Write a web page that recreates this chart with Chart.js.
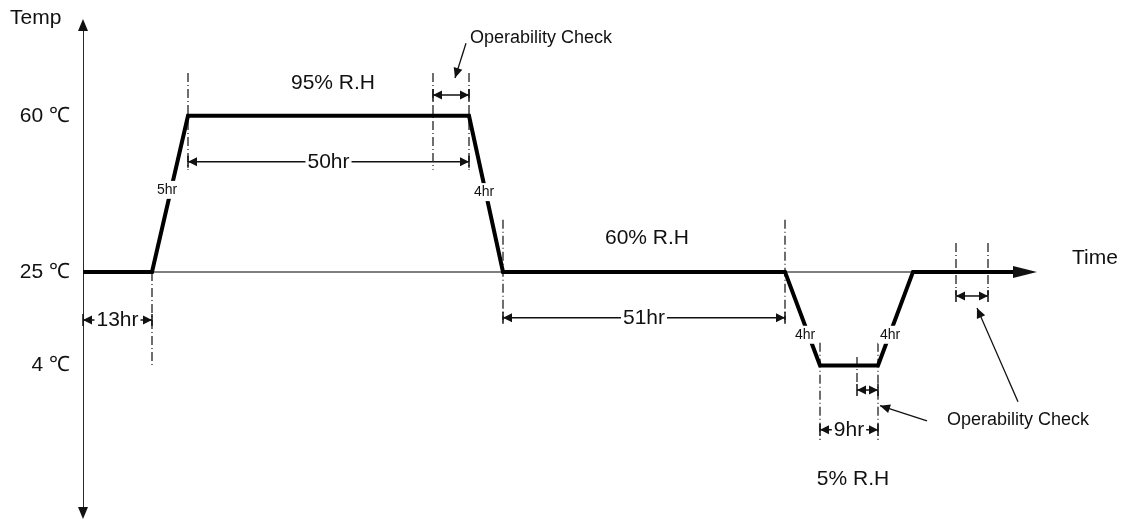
<!DOCTYPE html>
<html>
<head>
<meta charset="utf-8">
<script src="https://cdn.jsdelivr.net/npm/chart.js@4/dist/chart.umd.min.js"></script>
<style>
  html, body { margin: 0; padding: 0; background: #fff; }
  #wrap { width: 1128px; height: 520px; position: relative; }
</style>
</head>
<body>
<div id="wrap"><canvas id="chart"></canvas></div>
<script>
// temperature profile, schematic time units (not to scale)
const profileTime = [0, 69, 105, 386, 420, 702, 737, 795, 830, 930];
const profileTemp = [25, 25, 60, 60, 25, 25, 4, 4, 25, 25];

const tempTicks = [60, 25, 4];
const tempTickLabels = ["60 ℃", "25 ℃", "4 ℃"];

// dash-dot guide lines: x, from temp, to temp
const guideX = [69, 105, 350, 386, 420, 702, 737, 774, 795, 873, 905];
const guideFrom = [25, 69.6, 69.6, 69.6, 36.7, 36.7, 9.1, 5.9, 9.1, 31.5, 31.5];
const guideTo = [4, 47.9, 47.9, 47.9, 14.2, 14.2, -12.7, 0.3, -12.7, 19.8, 19.8];

// dimension arrows
const dimStart = [0, 105, 420, 737, 350, 774, 873];
const dimEnd = [69, 386, 702, 795, 386, 795, 905];
const dimLevel = [14.2, 49.7, 14.7, -10.4, 64.7, -1.5, 19.6];
const dimLabels = ["13hr", "50hr", "51hr", "9hr", "", "", ""];

// ramp durations
const rampLabels = ["5hr", "4hr", "4hr", "4hr"];
const rampAt = [[84, 43.4], [401, 42.9], [722, 10.9], [807, 10.9]];

const humidityLabels = ["95% R.H", "60% R.H", "5% R.H"];
const humidityAt = [[250, 67.4], [564, 32.6], [770, -21.6]];

const X_MAX = 954;
const Y_MIN = -30.2, Y_MAX = 81.5;

const FONT = '"Liberation Sans", Arial, sans-serif';

const datasets = [];
datasets.push({
  data: profileTime.map((t, i) => ({ x: t, y: profileTemp[i] })),
  borderColor: "#000", borderWidth: 4, borderJoinStyle: "miter", borderCapStyle: "butt"
});
guideX.forEach((gx, i) => {
  datasets.push({
    data: [{ x: gx, y: guideFrom[i] }, { x: gx, y: guideTo[i] }],
    borderColor: "#222", borderWidth: 1.3, borderDash: [9, 3, 1, 3]
  });
});
dimStart.forEach((s, i) => {
  datasets.push({
    data: [{ x: s, y: dimLevel[i] }, { x: dimEnd[i], y: dimLevel[i] }],
    borderColor: "#111", borderWidth: 1.5
  });
});
// axes
datasets.push({
  data: [{ x: 0, y: 25 }, { x: X_MAX - 10, y: 25 }],
  borderColor: "#555", borderWidth: 1.5
});
datasets.push({
  data: [{ x: 0, y: Y_MIN + 2 }, { x: 0, y: Y_MAX - 2 }],
  borderColor: "#111", borderWidth: 1.8
});

function head(ctx, x1, y1, x2, y2, len, half) {
  const a = Math.atan2(y2 - y1, x2 - x1);
  ctx.beginPath();
  ctx.moveTo(x2, y2);
  ctx.lineTo(x2 - len * Math.cos(a) + half * Math.sin(a), y2 - len * Math.sin(a) - half * Math.cos(a));
  ctx.lineTo(x2 - len * Math.cos(a) - half * Math.sin(a), y2 - len * Math.sin(a) + half * Math.cos(a));
  ctx.closePath();
  ctx.fill();
}

function boxedText(ctx, txt, x, y, font) {
  ctx.font = font;
  const w = ctx.measureText(txt).width;
  ctx.fillStyle = "#fff";
  ctx.fillRect(x - w / 2 - 2, y - 9, w + 4, 18);
  ctx.fillStyle = "#111";
  ctx.fillText(txt, x, y);
}

const decor = {
  id: "decor",
  afterDatasetsDraw(chart) {
    const ctx = chart.ctx;
    const xs = chart.scales.x, ys = chart.scales.y;
    const px = v => xs.getPixelForValue(v);
    const py = v => ys.getPixelForValue(v);
    ctx.save();
    ctx.fillStyle = "#111";
    ctx.strokeStyle = "#111";

    // axis arrowheads
    head(ctx, px(0), py(0), px(0), py(Y_MAX) - 1, 12, 5);
    head(ctx, px(0), py(0), px(0), py(Y_MIN) + 1, 12, 5);
    head(ctx, px(0), py(25), px(X_MAX), py(25), 24, 6);

    // dimension arrowheads and end ticks
    dimStart.forEach((s, i) => {
      const y = py(dimLevel[i]), a = px(s), b = px(dimEnd[i]);
      const mid = (a + b) / 2;
      ctx.fillStyle = "#111";
      head(ctx, mid, y, a, y, 9, 4.5);
      head(ctx, mid, y, b, y, 9, 4.5);
      ctx.lineWidth = 1.5;
      ctx.beginPath();
      ctx.moveTo(a, y - 6); ctx.lineTo(a, y + 6);
      ctx.moveTo(b, y - 6); ctx.lineTo(b, y + 6);
      ctx.stroke();
      if (dimLabels[i]) {
        ctx.textAlign = "center";
        ctx.textBaseline = "middle";
        boxedText(ctx, dimLabels[i], mid, y, "21px " + FONT);
      }
    });

    ctx.textAlign = "center";
    ctx.textBaseline = "middle";
    rampLabels.forEach((t, i) => {
      boxedText(ctx, t, px(rampAt[i][0]), py(rampAt[i][1]), "14px " + FONT);
    });

    ctx.fillStyle = "#111";
    ctx.font = "21px " + FONT;
    humidityLabels.forEach((t, i) => {
      ctx.fillText(t, px(humidityAt[i][0]), py(humidityAt[i][1]));
    });

    // operability check notes
    ctx.font = "18px " + FONT;
    ctx.fillText("Operability Check", px(458), py(77.5));
    ctx.fillText("Operability Check", px(935), py(-8.2));
    ctx.lineWidth = 1.3;
    [[383, 76.3, 372, 68.5], [844, -8.4, 797, -5.0], [935, -4.1, 894, 16.9]].forEach(a => {
      const x1 = px(a[0]), y1 = py(a[1]), x2 = px(a[2]), y2 = py(a[3]);
      ctx.beginPath();
      ctx.moveTo(x1, y1); ctx.lineTo(x2, y2);
      ctx.stroke();
      head(ctx, x1, y1, x2, y2, 10, 4.5);
    });

    // axis titles and ticks
    ctx.font = "21px " + FONT;
    ctx.textAlign = "left";
    ctx.fillText("Temp", 10, 18);
    ctx.fillText("Time", px(X_MAX) + 35, py(28.1));
    ctx.textAlign = "right";
    tempTicks.forEach((t, i) => {
      ctx.fillText(tempTickLabels[i], px(0) - 13, py(t));
    });
    ctx.restore();
  }
};

new Chart(document.getElementById("chart"), {
  type: "scatter",
  data: { datasets },
  options: {
    animation: false,
    responsive: true,
    maintainAspectRatio: false,
    showLine: true,
    layout: { padding: { left: 83, right: 91, top: 20, bottom: 2 } },
    elements: { point: { radius: 0, hoverRadius: 0 }, line: { tension: 0 } },
    scales: {
      x: { type: "linear", min: 0, max: X_MAX, display: false },
      y: { type: "linear", min: Y_MIN, max: Y_MAX, display: false }
    },
    plugins: { legend: { display: false }, tooltip: { enabled: false } }
  },
  plugins: [decor]
});
</script>
</body>
</html>
